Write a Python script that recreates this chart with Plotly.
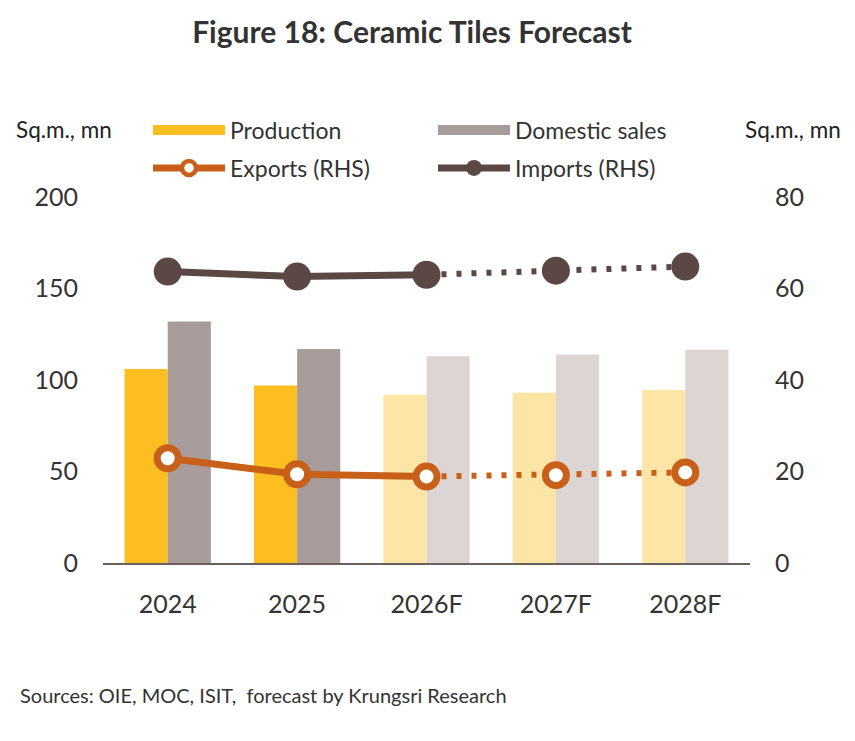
import plotly.graph_objects as go

# ---- data ----
years = ["2024", "2025", "2026F", "2027F", "2028F"]
production = [106, 97, 92, 93, 94.5]
domestic_sales = [132, 117, 113, 114, 116.5]
exports_rhs = [22.9, 19.4, 18.9, 19.2, 19.8]
imports_rhs = [63.7, 62.6, 63.0, 63.9, 64.8]
is_forecast = [False, False, True, True, True]
solid_end = 3  # solid line through 2026F, dotted afterwards

# ---- styles ----
FONT = "Lato"
C_PROD = "#FDBE22"
C_PROD_F = "#FDE5A6"
C_DOM = "#A79C9A"
C_DOM_F = "#DCD5D3"
C_EXP = "#C8601A"
C_IMP = "#5B4845"
TXT = "#333333"

# plot area in pixels (used to place annotations)
L, R, T, B = 103, 750, 197, 563
W, H = R - L, B - T
def px_x(p):
    return (p - L) / W
def px_y(p):
    return (B - p) / H

fig = go.Figure()

fig.add_trace(go.Bar(
    x=years, y=production, name="Production",
    marker=dict(color=[C_PROD_F if f else C_PROD for f in is_forecast], line=dict(width=0)),
    showlegend=False,
))
fig.add_trace(go.Bar(
    x=years, y=domestic_sales, name="Domestic sales",
    marker=dict(color=[C_DOM_F if f else C_DOM for f in is_forecast], line=dict(width=0)),
    showlegend=False,
))

LW = 7
for vals, col in [(exports_rhs, C_EXP), (imports_rhs, C_IMP)]:
    fig.add_trace(go.Scatter(x=years[:solid_end], y=vals[:solid_end], yaxis="y2",
                             mode="lines", line=dict(color=col, width=LW),
                             showlegend=False, hoverinfo="skip"))
    fig.add_trace(go.Scatter(x=years[solid_end - 1:], y=vals[solid_end - 1:], yaxis="y2",
                             mode="lines", line=dict(color=col, width=6, dash="5px,10px"),
                             showlegend=False, hoverinfo="skip"))

fig.add_trace(go.Scatter(x=years, y=exports_rhs, yaxis="y2", mode="markers", name="Exports (RHS)",
                         marker=dict(size=21, color="white", line=dict(color=C_EXP, width=7)),
                         showlegend=False))
fig.add_trace(go.Scatter(x=years, y=imports_rhs, yaxis="y2", mode="markers", name="Imports (RHS)",
                         marker=dict(size=28, color=C_IMP, line=dict(width=0)),
                         showlegend=False))

# legend entries
fig.add_trace(go.Scatter(x=[None], y=[None], mode="lines", name="Production",
                         line=dict(color=C_PROD, width=16), legend="legend"))
fig.add_trace(go.Scatter(x=[None], y=[None], mode="lines", name="Domestic sales",
                         line=dict(color=C_DOM, width=16), legend="legend"))
fig.add_trace(go.Scatter(x=[None], y=[None], mode="lines+markers", name="Exports (RHS)",
                         line=dict(color=C_EXP, width=7),
                         marker=dict(size=14, color="white", line=dict(color=C_EXP, width=4.5)),
                         legend="legend2"))
fig.add_trace(go.Scatter(x=[None], y=[None], mode="lines+markers", name="Imports (RHS)",
                         line=dict(color=C_IMP, width=7),
                         marker=dict(size=18, color=C_IMP), legend="legend2"))

legend_common = dict(orientation="h", xanchor="left", yanchor="middle",
                     font=dict(family=FONT, size=23, color=TXT),
                     itemwidth=72, entrywidth=198, entrywidthmode="pixels",
                     bgcolor="rgba(0,0,0,0)", itemclick=False, itemdoubleclick=False,
                     traceorder="normal")

fig.update_layout(
    width=855, height=741,
    margin=dict(l=L, r=855 - R, t=T, b=741 - B),
    paper_bgcolor="white", plot_bgcolor="white",
    font=dict(family=FONT, color=TXT),
    barmode="group", bargap=0.333, bargroupgap=0,
    title=dict(text="<b>Figure 18: Ceramic Tiles Forecast</b>", x=412 / 855, xref="container",
               xanchor="center", y=1 - 32 / 741, yanchor="middle", yref="container",
               font=dict(family=FONT, size=30, color=TXT)),
    xaxis=dict(showline=True, linecolor="#6B6060", linewidth=2, ticks="",
               showgrid=False, zeroline=False,
               tickfont=dict(family=FONT, size=25, color=TXT), ticklabelstandoff=18),
    yaxis=dict(range=[0, 200], dtick=50, showgrid=False, zeroline=False, showline=False,
               ticks="", tickfont=dict(family=FONT, size=25, color=TXT), ticklabelstandoff=24),
    yaxis2=dict(range=[0, 80], dtick=20, overlaying="y", side="right", showgrid=False,
                zeroline=False, showline=False, ticks="",
                tickfont=dict(family=FONT, size=25, color=TXT), ticklabelstandoff=24),
    legend=dict(x=px_x(148), y=px_y(130), **legend_common),
    legend2=dict(x=px_x(148), y=px_y(168), **legend_common),
    annotations=[
        dict(text="Sq.m., mn", x=px_x(14), y=px_y(130), xref="paper", yref="paper",
             xanchor="left", yanchor="middle", showarrow=False,
             font=dict(family=FONT, size=22.5, color="#222")),
        dict(text="Sq.m., mn", x=px_x(843), y=px_y(130), xref="paper", yref="paper",
             xanchor="right", yanchor="middle", showarrow=False,
             font=dict(family=FONT, size=22.5, color="#222")),
        dict(text="Sources: OIE, MOC, ISIT,  forecast by Krungsri Research", x=px_x(18),
             y=px_y(695), xref="paper", yref="paper", xanchor="left", yanchor="middle",
             showarrow=False, font=dict(family=FONT, size=20, color="#333")),
    ],
)

fig.write_html("out.html")
